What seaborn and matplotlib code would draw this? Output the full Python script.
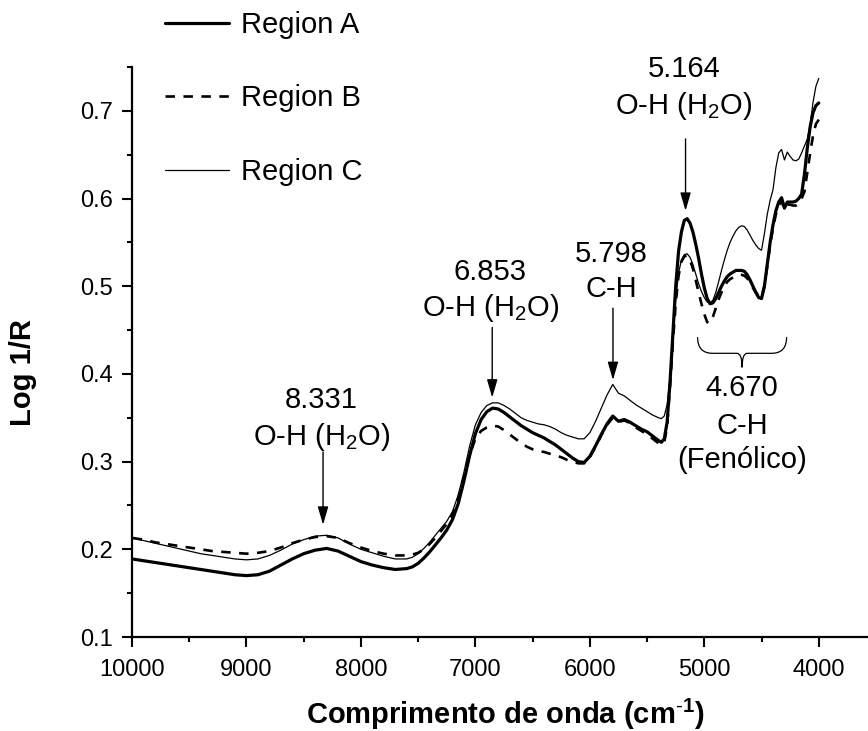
import numpy as np
import pandas as pd
import matplotlib
matplotlib.use("Agg")
import matplotlib.pyplot as plt
from matplotlib.path import Path
from matplotlib.patches import PathPatch
from matplotlib.ticker import MultipleLocator, FormatStrFormatter
import seaborn as sns

# NIR spectra (log 1/R) of three regions, wavenumber in cm-1
wavenumber = [
    10000, 9900, 9800, 9700, 9600, 9500, 9400, 9300, 9200, 9100,
    9000, 8900, 8800, 8700, 8600, 8500, 8400, 8300, 8200, 8100,
    8000, 7900, 7800, 7700, 7600,
    7550, 7500, 7450, 7400, 7350, 7300, 7250, 7200, 7150, 7100,
    7050, 7000, 6950, 6900, 6850, 6800, 6750, 6700, 6650, 6600,
    6550, 6500, 6450, 6400, 6350, 6300, 6250, 6200, 6150, 6100,
    6050, 6000, 5950, 5900, 5850, 5800, 5750, 5700, 5650, 5600,
    5550, 5500, 5450, 5400,
    5375, 5350, 5325, 5300, 5275, 5250, 5225, 5200, 5175, 5150,
    5125, 5100, 5075, 5050, 5025, 5000, 4975, 4950, 4925, 4900,
    4875, 4850, 4825, 4800, 4775, 4750, 4725, 4700, 4675, 4650,
    4625, 4600, 4575, 4550, 4525, 4500, 4475, 4450, 4425, 4400,
    4375, 4350, 4325, 4300, 4275, 4250, 4225, 4200, 4175, 4150,
    4125, 4100, 4075, 4050, 4025, 4000,
]

region_a = [
    0.189, 0.187, 0.185, 0.183, 0.181, 0.179, 0.177, 0.175, 0.173, 0.171,
    0.170, 0.171, 0.175, 0.182, 0.189, 0.195, 0.199, 0.201, 0.198, 0.192,
    0.186, 0.182, 0.179, 0.177, 0.178,
    0.180, 0.184, 0.190, 0.197, 0.205, 0.213, 0.222, 0.234, 0.252, 0.278,
    0.307, 0.332, 0.348, 0.357, 0.361, 0.360, 0.356, 0.351, 0.346, 0.341,
    0.337, 0.333, 0.330, 0.327, 0.323, 0.319, 0.314, 0.309, 0.304, 0.300,
    0.299, 0.306, 0.318, 0.331, 0.343, 0.352, 0.346, 0.348, 0.345, 0.341,
    0.337, 0.334, 0.329, 0.324,
    0.322, 0.326, 0.345, 0.390, 0.445, 0.500, 0.540, 0.562, 0.575, 0.577,
    0.572, 0.562, 0.548, 0.532, 0.514, 0.498, 0.486, 0.480, 0.481, 0.486,
    0.493, 0.500, 0.506, 0.511, 0.514, 0.516, 0.518, 0.518, 0.518, 0.517,
    0.513, 0.507, 0.500, 0.493, 0.487, 0.486, 0.500, 0.525, 0.550, 0.570,
    0.586, 0.596, 0.601, 0.589, 0.596, 0.596, 0.596, 0.597, 0.600, 0.605,
    0.628, 0.658, 0.682, 0.698, 0.706, 0.709,
]

region_b = [
    0.213, 0.211, 0.208, 0.206, 0.204, 0.202, 0.200, 0.198, 0.197, 0.196,
    0.195, 0.196, 0.198, 0.202, 0.207, 0.211, 0.214, 0.215, 0.213, 0.207,
    0.202, 0.198, 0.195, 0.193, 0.193,
    0.194, 0.196, 0.200, 0.206, 0.213, 0.221, 0.229, 0.240, 0.258, 0.282,
    0.308, 0.326, 0.335, 0.339, 0.341, 0.340, 0.336, 0.331, 0.326, 0.321,
    0.317, 0.314, 0.312, 0.311, 0.309, 0.307, 0.305, 0.302, 0.300, 0.298,
    0.298, 0.305, 0.317, 0.330, 0.342, 0.350, 0.345, 0.347, 0.344, 0.339,
    0.335, 0.331, 0.326, 0.321,
    0.319, 0.322, 0.340, 0.385, 0.435, 0.480, 0.512, 0.528, 0.534, 0.535,
    0.530, 0.520, 0.507, 0.493, 0.480, 0.468, 0.459, 0.458, 0.465, 0.475,
    0.485, 0.493, 0.500, 0.505, 0.508, 0.510, 0.512, 0.513, 0.513, 0.512,
    0.509, 0.504, 0.498, 0.493, 0.489, 0.488, 0.500, 0.523, 0.547, 0.566,
    0.582, 0.592, 0.597, 0.588, 0.593, 0.593, 0.592, 0.592, 0.594, 0.600,
    0.608, 0.630, 0.652, 0.672, 0.685, 0.690,
]

region_c = [
    0.213, 0.210, 0.207, 0.204, 0.201, 0.198, 0.195, 0.193, 0.191, 0.189,
    0.188, 0.189, 0.193, 0.199, 0.206, 0.211, 0.215, 0.216, 0.213, 0.206,
    0.200, 0.196, 0.192, 0.189, 0.189,
    0.191, 0.195, 0.201, 0.208, 0.216, 0.224, 0.232, 0.243, 0.262, 0.288,
    0.318, 0.342, 0.356, 0.364, 0.367, 0.367, 0.364, 0.360, 0.355, 0.350,
    0.347, 0.345, 0.343, 0.342, 0.340, 0.337, 0.333, 0.330, 0.328, 0.326,
    0.326, 0.333, 0.346, 0.361, 0.376, 0.388, 0.378, 0.375, 0.370, 0.365,
    0.361, 0.357, 0.353, 0.350,
    0.349, 0.352, 0.365, 0.395, 0.440, 0.485, 0.515, 0.530, 0.536, 0.537,
    0.533, 0.525, 0.514, 0.503, 0.494, 0.487, 0.482, 0.481, 0.484, 0.493,
    0.505, 0.518, 0.530, 0.541, 0.550, 0.557, 0.563, 0.567, 0.569, 0.568,
    0.564, 0.558, 0.552, 0.547, 0.543, 0.541, 0.560, 0.582, 0.598, 0.610,
    0.635, 0.652, 0.656, 0.644, 0.653, 0.648, 0.644, 0.643, 0.645, 0.652,
    0.660, 0.668, 0.685, 0.710, 0.728, 0.737,
]

series_names = ["Region A", "Region B", "Region C"]

# band labels: wavenumber, number, assignment
peak_wn = [8331, 6853, 5798, 5164]
peak_num = ["8.331", "6.853", "5.798", "5.164"]
peak_group = ["O-H (H$_\\mathregular{2}$O)", "O-H (H$_\\mathregular{2}$O)",
              "C-H", "O-H (H$_\\mathregular{2}$O)"]

df = pd.DataFrame({
    "wavenumber": wavenumber * 3,
    "log1r": region_a + region_b + region_c,
    "region": np.repeat(series_names, len(wavenumber)),
})

sns.set_theme(style="ticks")
plt.rcParams["font.family"] = ["Liberation Sans", "DejaVu Sans"]
plt.rcParams["mathtext.fontset"] = "custom"
plt.rcParams["mathtext.rm"] = "Liberation Sans"
plt.rcParams["mathtext.bf"] = "Liberation Sans:bold"

W, H = 868, 731
fig = plt.figure(figsize=(W / 100, H / 100), dpi=100)
ax = fig.add_axes([132 / W, 1 - 637 / H, (W - 132) / W, (637 - 67) / H])

styles = {
    "Region C": dict(lw=0.9, ls="-"),
    "Region B": dict(lw=1.9, ls=(0, (3.6, 3.2))),
    "Region A": dict(lw=2.3, ls="-"),
}
for name in ["Region C", "Region B", "Region A"]:
    sub = df[df["region"] == name]
    sns.lineplot(data=sub, x="wavenumber", y="log1r", ax=ax, color="black",
                 estimator=None, linewidth=styles[name]["lw"],
                 linestyle=styles[name]["ls"], label=name, legend=False)

ax.set_xlim(10000, 3570)
ax.set_ylim(0.1, 0.75)
ax.xaxis.set_major_locator(MultipleLocator(1000))
ax.xaxis.set_minor_locator(MultipleLocator(500))
ax.yaxis.set_major_locator(MultipleLocator(0.1))
ax.yaxis.set_minor_locator(MultipleLocator(0.05))
ax.yaxis.set_major_formatter(FormatStrFormatter("%.1f"))
sns.despine(ax=ax)
for sp in ["left", "bottom"]:
    ax.spines[sp].set_linewidth(1.6)
    ax.spines[sp].set_color("black")
ax.tick_params(which="major", length=7.5, width=1.5, labelsize=17,
               color="black", labelcolor="black", direction="out", pad=6)
ax.tick_params(axis="x", which="major", pad=8)
ax.tick_params(which="minor", length=3.8, width=1.5, color="black",
               direction="out")

ax.set_xlabel("Comprimento de onda (cm$^{\\mathbf{\\text{-}1}}$)", fontsize=21,
              fontweight="bold", color="black")
ax.set_ylabel("Log 1/R", fontsize=21, fontweight="bold", color="black")
ax.xaxis.label.set_va("center")
ax.yaxis.label.set_va("center")
ax.xaxis.set_label_coords((505 - 132) / 736, (637 - 714) / 570)
ax.yaxis.set_label_coords((23 - 132) / 736, (637 - 372) / 570)

# arrows and labels for the absorption bands
arrow_tip = [0.228, 0.373, 0.393, 0.586]
arrow_tail = [0.311, 0.453, 0.475, 0.668]
num_y = [0.370, 0.516, 0.537, 0.748]
grp_y = [0.328, 0.475, 0.497, 0.706]
for wn, num, grp, tip, tail, ny, gy in zip(peak_wn, peak_num, peak_group,
                                          arrow_tip, arrow_tail, num_y, grp_y):
    ax.annotate("", xy=(wn, tip), xytext=(wn, tail),
                arrowprops=dict(arrowstyle="-|>,head_length=0.55,head_width=0.16",
                                mutation_scale=20, lw=1.0, color="black",
                                shrinkA=0, shrinkB=0))
    ax.text(wn + 15, ny, num, ha="center", va="center", fontsize=21,
            color="black")
    ax.text(wn + 15, gy, grp, ha="center", va="center", fontsize=21,
            color="black")

# curly brace over the phenolic C-H band
xc, hw = 4670, 389
y_top, y_mid, y_tip = 0.442, 0.4235, 0.4075
r = 131
verts = [
    (xc + hw, y_top), (xc + hw, y_mid), (xc + hw - r, y_mid),
    (xc + 45, y_mid),
    (xc, y_mid), (xc, y_tip),
    (xc, y_mid), (xc - 45, y_mid),
    (xc - hw + r, y_mid),
    (xc - hw, y_mid), (xc - hw, y_top),
]
codes = [Path.MOVETO, Path.CURVE3, Path.CURVE3, Path.LINETO,
         Path.CURVE3, Path.CURVE3, Path.CURVE3, Path.CURVE3,
         Path.LINETO, Path.CURVE3, Path.CURVE3]
ax.add_patch(PathPatch(Path(verts, codes), facecolor="none",
                       edgecolor="black", lw=0.9))
ax.text(xc, 0.384, "4.670", ha="center", va="center", fontsize=21,
        color="black")
ax.text(xc, 0.341, "C-H", ha="center", va="center", fontsize=21,
        color="black")
ax.text(xc, 0.302, "(Fenólico)", ha="center", va="center", fontsize=21,
        color="black")

handles, labels = ax.get_legend_handles_labels()
order = [labels.index(n) for n in series_names]
leg = fig.legend([handles[i] for i in order], [labels[i] for i in order],
                 loc="upper left", bbox_to_anchor=(165 / W, 1 - 11 / H),
                 frameon=False, fontsize=21, handlelength=2.2,
                 handletextpad=0.4, labelspacing=1.56, borderpad=0,
                 borderaxespad=0)
for t in leg.get_texts():
    t.set_color("black")

fig.savefig("out.png", dpi=100)
